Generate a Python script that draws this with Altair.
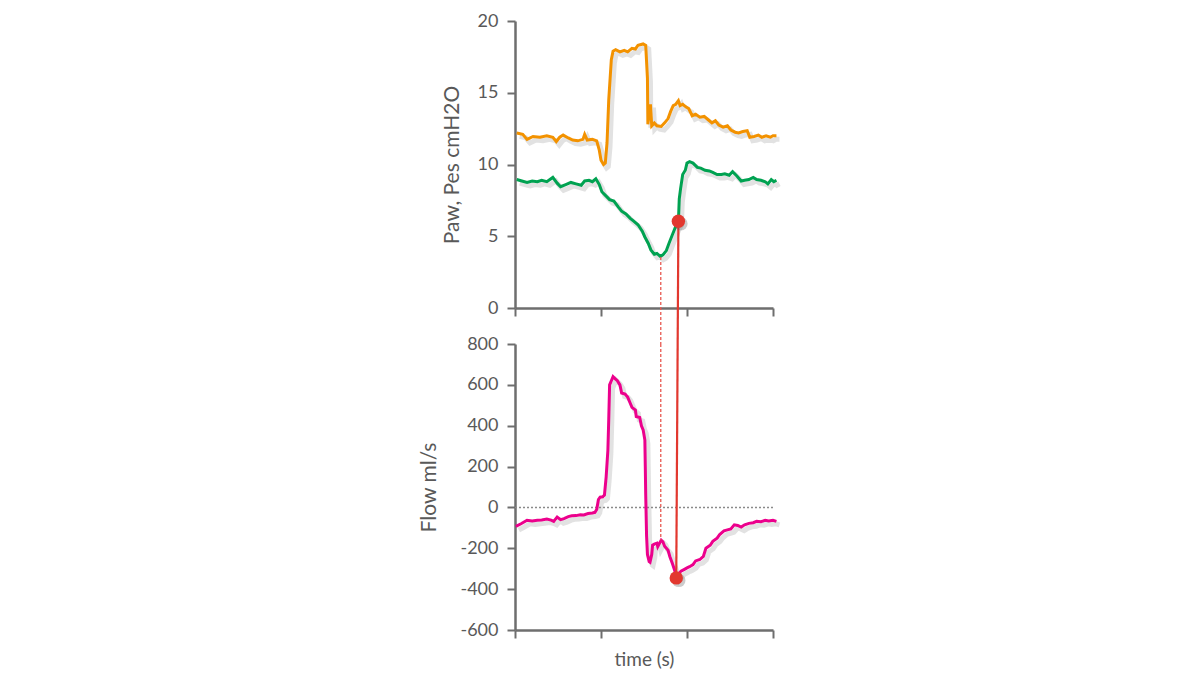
import altair as alt
import pandas as pd

# ---------------- data (time in axis-tick units 0..3) ----------------
paw_t = [0.02,0.09,0.14,0.21,0.29,0.37,0.44,0.48,0.52,0.56,0.62,0.67,0.73,0.79,0.81,0.84,0.90,0.95,0.98,1.00,1.03,1.05,1.07,1.09,1.12,1.14,1.17,1.22,1.27,1.31,1.36,1.40,1.43,1.49,1.52,1.54,1.545,1.56,1.575,1.59,1.62,1.65,1.70,1.74,1.78,1.81,1.84,1.87,1.90,1.92,1.95,1.99,2.02,2.06,2.10,2.15,2.20,2.25,2.29,2.33,2.37,2.42,2.47,2.51,2.56,2.60,2.65,2.70,2.73,2.78,2.83,2.87,2.92,2.97,3.00,3.04]
paw_v = [12.2,12.1,11.75,11.95,11.9,12.0,11.9,11.6,11.9,12.05,11.85,11.7,11.65,11.75,12.1,11.7,11.75,11.65,11.0,10.3,10.0,10.1,11.5,14.5,17.3,17.9,18.0,17.85,17.95,17.85,18.1,18.05,18.3,18.4,18.3,16.0,12.8,13.6,14.2,12.7,12.9,12.7,12.65,12.9,13.2,13.7,14.1,14.2,14.45,14.1,14.2,14.0,13.9,13.4,13.5,13.3,13.35,13.1,12.9,13.05,12.75,12.6,12.7,12.4,12.25,12.2,12.3,12.35,11.9,11.95,12.05,11.9,12.0,11.9,12.0,12.0]

pes_t = [0.02,0.08,0.14,0.20,0.26,0.31,0.37,0.44,0.49,0.53,0.59,0.65,0.71,0.77,0.81,0.86,0.90,0.94,0.98,1.01,1.06,1.10,1.15,1.20,1.24,1.29,1.34,1.38,1.43,1.48,1.51,1.55,1.58,1.62,1.65,1.69,1.72,1.76,1.79,1.83,1.87,1.90,1.91,1.925,1.95,1.98,2.00,2.03,2.07,2.12,2.16,2.21,2.26,2.30,2.35,2.40,2.44,2.49,2.53,2.58,2.63,2.67,2.72,2.77,2.81,2.86,2.91,2.94,2.98,3.01,3.04]
pes_v = [8.95,8.85,8.75,8.85,8.8,8.9,8.8,9.1,8.7,8.45,8.6,8.75,8.65,8.55,8.85,8.9,8.8,9.0,8.6,8.1,7.8,7.55,7.45,7.05,6.75,6.55,6.25,6.05,5.8,5.35,4.95,4.5,4.05,3.75,3.8,3.6,3.7,4.0,4.5,5.1,5.7,6.0,7.6,8.3,9.3,9.6,10.1,10.2,10.1,9.8,9.75,9.6,9.55,9.45,9.3,9.3,9.35,9.25,9.5,9.2,8.85,8.9,8.95,9.1,8.95,8.9,8.8,8.65,8.95,8.8,8.9]

flow_t = [0.01,0.07,0.14,0.20,0.26,0.31,0.37,0.42,0.45,0.49,0.53,0.57,0.62,0.66,0.71,0.76,0.80,0.85,0.90,0.93,0.95,0.97,0.99,1.02,1.04,1.06,1.08,1.09,1.10,1.13,1.14,1.16,1.19,1.22,1.24,1.28,1.31,1.34,1.36,1.40,1.41,1.45,1.47,1.49,1.51,1.515,1.52,1.53,1.54,1.56,1.57,1.59,1.60,1.62,1.65,1.66,1.70,1.72,1.74,1.78,1.80,1.83,1.86,1.875,1.895,1.93,1.97,2.00,2.03,2.07,2.10,2.15,2.19,2.22,2.27,2.30,2.35,2.38,2.43,2.47,2.51,2.55,2.59,2.63,2.67,2.72,2.77,2.81,2.86,2.91,2.95,3.00,3.04]
flow_v = [-93,-80,-63,-66,-63,-61,-57,-62,-68,-47,-60,-55,-45,-41,-40,-36,-37,-30,-27,-24,-10,38,50,52,60,150,280,430,600,630,640,632,620,600,560,555,540,510,490,477,445,440,400,380,330,200,60,-140,-230,-265,-268,-230,-185,-180,-175,-192,-160,-168,-190,-210,-240,-275,-312,-340,-330,-312,-303,-296,-290,-280,-262,-255,-240,-200,-185,-166,-150,-133,-115,-110,-105,-85,-88,-96,-85,-78,-75,-68,-70,-63,-66,-63,-68]

x_ticks = [0, 1, 2, 3]
p_ticks = [0, 5, 10, 15, 20]
f_ticks = [-600, -400, -200, 0, 200, 400, 600, 800]

# marked points
pes_mark = (1.90, 6.04)       # red dot on Pes
flow_mark = (1.875, -345)     # red dot on Flow
pes_min = (1.695, 3.55)       # dashed line start (Pes minimum)
flow_at_min = -160            # dashed line end on Flow

# ---------------- layout ----------------
W = 258
TOP_H = 287
BOT_H = 286
GAP = 36  # pixels between the two plot areas
top_pxu = TOP_H / 20.0
bot_pxu = BOT_H / 1400.0

top_drop = pes_mark[1] * top_pxu + GAP
bot_drop = (800 - flow_mark[1]) * bot_pxu
frac = top_drop / (top_drop + bot_drop)
t_mid = pes_mark[0] + (flow_mark[0] - pes_mark[0]) * frac
gap_val_top = -GAP / top_pxu

ORANGE = "#F39200"
GREEN = "#00A251"
MAGENTA = "#EC008C"
RED = "#E2382F"
AXIS = "#6E6E6E"
TXT = "#595959"
FONT = "Lato"

paw_df = pd.DataFrame({"t": paw_t, "v": paw_v})
pes_df = pd.DataFrame({"t": pes_t, "v": pes_v})
flow_df = pd.DataFrame({"t": flow_t, "v": flow_v})

xscale = alt.Scale(domain=[0, 3], nice=False)

def xenc(title):
    return alt.X("t:Q", scale=xscale, axis=alt.Axis(
        values=x_ticks, labels=False, grid=False, title=title,
        tickSize=8, tickWidth=2, tickColor=AXIS,
        domainColor=AXIS, domainWidth=2.5,
        titleFont=FONT, titleFontSize=19, titleFontWeight="normal",
        titleColor=TXT, titlePadding=11))

def yenc(vals, dom, title, tpad):
    return alt.Y("v:Q", scale=alt.Scale(domain=dom, nice=False), axis=alt.Axis(
        values=vals, title=title, grid=False,
        tickSize=8, tickWidth=2, tickColor=AXIS,
        domainColor=AXIS, domainWidth=2.5,
        labelFont=FONT, labelFontSize=18, labelColor=TXT, labelPadding=9,
        labelExpr="'' + datum.value",
        titleFont=FONT, titleFontSize=21, titleFontWeight="normal",
        titleColor=TXT, titlePadding=tpad))

def panel_layers(x, y, lines, dash, red, dot):
    layers = []
    for df, _ in lines:
        layers.append(alt.Chart(df).mark_line(color="#7a7a7a", opacity=0.22, strokeWidth=5,
                                              xOffset=3, yOffset=3.5).encode(x=x, y=y))
    for df, col in lines:
        layers.append(alt.Chart(df).mark_line(color=col, strokeWidth=3).encode(x=x, y=y))
    layers.append(alt.Chart(dash).mark_rule(color="#E8574F", strokeWidth=1.3, strokeDash=[3, 2]).encode(
        x=x, y=y, y2="v2:Q"))
    layers.append(alt.Chart(red).mark_rule(color=RED, strokeWidth=2.2).encode(
        x=x, x2="t2:Q", y=y, y2="v2:Q"))
    layers.append(alt.Chart(dot).mark_circle(color="#555", opacity=0.3, size=180,
                                             xOffset=2.5, yOffset=2.5).encode(x=x, y=y))
    layers.append(alt.Chart(dot).mark_circle(color=RED, opacity=1, size=180).encode(x=x, y=y))
    return layers

# top panel
xt = xenc(None)
yt = yenc(p_ticks, [0, 20], "Paw, Pes cmH2O", 15)
top_layers = panel_layers(
    xt, yt,
    [(paw_df, ORANGE), (pes_df, GREEN)],
    pd.DataFrame({"t": [pes_min[0]], "v": [pes_min[1]], "v2": [gap_val_top]}),
    pd.DataFrame({"t": [pes_mark[0]], "t2": [t_mid], "v": [pes_mark[1]], "v2": [gap_val_top]}),
    pd.DataFrame({"t": [pes_mark[0]], "v": [pes_mark[1]]}),
)
top = alt.layer(*top_layers).properties(width=W, height=TOP_H)

# bottom panel
xb = xenc("time (s)")
yb = yenc(f_ticks, [-600, 800], "Flow ml/s", 20)
zero_line = alt.Chart(pd.DataFrame({"t": [0], "t2": [3], "v": [0]})).mark_rule(
    color="#8a8a8a", strokeWidth=1.5, strokeDash=[2, 2]).encode(x=xb, x2="t2:Q", y=yb)
bot_layers = panel_layers(
    xb, yb,
    [(flow_df, MAGENTA)],
    pd.DataFrame({"t": [pes_min[0]], "v": [800], "v2": [flow_at_min]}),
    pd.DataFrame({"t": [t_mid], "t2": [flow_mark[0]], "v": [800], "v2": [flow_mark[1]]}),
    pd.DataFrame({"t": [flow_mark[0]], "v": [flow_mark[1]]}),
)
bottom = alt.layer(zero_line, *bot_layers).properties(width=W, height=BOT_H)

chart = alt.vconcat(top, bottom, spacing=GAP, bounds="flush", background="white").properties(
    padding={"left": 410, "top": 4, "right": 10, "bottom": 5}
).configure_view(strokeWidth=0, stroke=None).configure_axis(grid=False)

chart.save("out.html", embed_options={"renderer": "svg", "actions": False})
